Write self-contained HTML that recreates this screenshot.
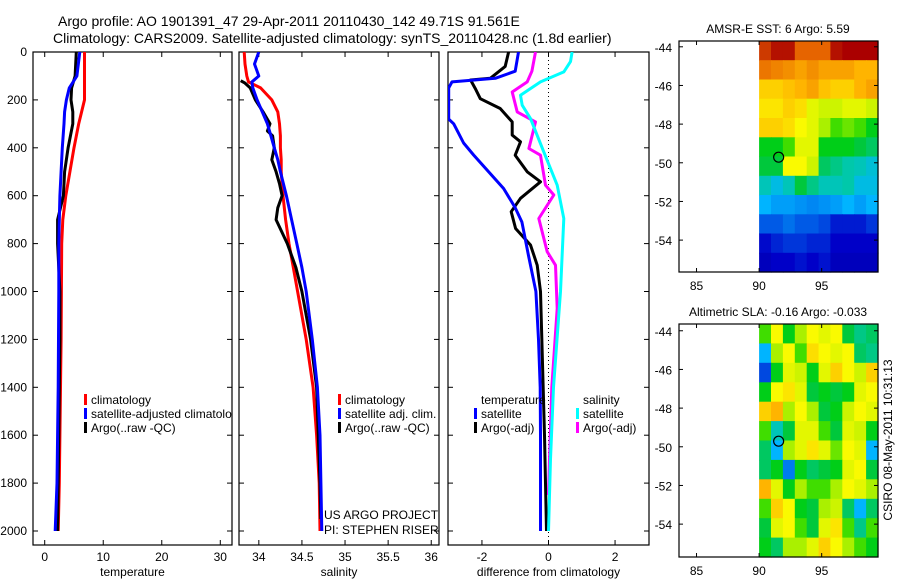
<!DOCTYPE html>
<html><head><meta charset="utf-8"><style>
html,body{margin:0;padding:0;background:#fff;}
svg{display:block;font-family:"Liberation Sans",sans-serif;}
</style></head><body>
<svg id="fig" width="900" height="580" viewBox="0 0 900 580" xmlns="http://www.w3.org/2000/svg">
<text x="58" y="26" font-size="14">Argo profile: AO 1901391_47 29-Apr-2011 20110430_142 49.71S 91.561E</text>
<text x="53" y="43" font-size="14">Climatology: CARS2009. Satellite-adjusted climatology: synTS_20110428.nc (1.8d earlier)</text>
<g id="plots"></g>
</svg>
<script>
// ---- temperature panel data ----
const tDepth = [0,100,150,200,250,300,400,500,600,700,800,1000,1200,1400,1600,1800,2000];
const tClim  = [6.8,6.8,6.8,6.8,6.3,5.8,5.0,4.3,3.6,3.1,2.9,2.85,2.8,2.7,2.6,2.5,2.3];
const tSat   = [6.0,5.5,4.2,3.7,3.4,3.3,3.0,2.8,2.6,2.5,2.4,2.4,2.35,2.3,2.2,2.1,1.8];
const tArgo  = [5.4,5.2,4.6,4.5,4.8,4.8,4.0,3.4,3.2,2.2,2.2,2.6,2.6,2.5,2.4,2.3,2.2];
const tTicks = [0,10,20,30];
// ---- salinity panel data ----
const sDepth = [0,50,100,125,150,200,250,300,350,400,450,500,600,700,800,900,1000,1200,1400,1600,1800,2000];
const sClim  = [33.83,33.84,33.86,33.88,34.02,34.15,34.22,34.24,34.25,34.25,34.26,34.26,34.28,34.31,34.35,34.40,34.45,34.55,34.63,34.67,34.70,34.71];
const sSat   = [34.0,33.95,34.0,33.92,33.93,33.98,34.04,34.10,34.14,34.18,34.22,34.25,34.32,34.38,34.44,34.50,34.55,34.62,34.68,34.71,34.72,34.73];
const sArgoDepth = [120,130,150,200,250,300,330,350,400,450,500,550,600,650,700,800,900,1000,1200,1400,1600,1800,1950];
const sArgo  = [33.79,33.84,33.90,33.96,34.05,34.13,34.10,34.16,34.18,34.15,34.20,34.24,34.27,34.22,34.20,34.33,34.43,34.50,34.60,34.67,34.69,34.71,34.72];
const sTicks = [34,34.5,35,35.5,36];
// ---- difference panel data ----
const dDepth = [0,80,110,125,150,200,280,300,380,430,500,570,650,710,850,1000,1200,1400,1600,1800,2000];
const dTSat  = [-0.9,-1.0,-1.6,-2.9,-3.0,-3.0,-3.0,-2.85,-2.55,-2.25,-1.8,-1.35,-1.0,-0.8,-0.6,-0.38,-0.3,-0.25,-0.24,-0.24,-0.24];
const dTArgoDepth = [0,60,110,117,153,195,236,292,347,375,431,500,542,611,667,737,806,890,1000,1300,1600,2000];
const dTArgo = [-1.2,-1.3,-1.75,-2.34,-2.2,-2.05,-1.45,-1.09,-1.09,-0.84,-1.0,-0.64,-0.24,-0.84,-1.12,-0.99,-0.54,-0.34,-0.24,-0.18,-0.12,-0.06];
const dSArgoDepth = [0,80,125,167,250,292,403,431,556,597,695,834,890,1070,1400,1700,1850];
const dSArgo = [-0.39,-0.5,-0.64,-1.09,-0.94,-0.39,-0.59,-0.24,-0.09,0.16,-0.29,-0.04,0.21,0.26,0.1,0.03,0.0];
const dSSatDepth = [0,40,83,125,181,222,278,417,556,695,1000,1400,1700,2000];
const dSSat  = [0.71,0.66,0.46,-0.24,-0.84,-0.79,-0.54,-0.14,0.26,0.46,0.36,0.15,0.06,0.0];
const dTicks = [-2,0,2];
const depthTicks = [0,200,400,600,800,1000,1200,1400,1600,1800,2000];
// ---- map data (colour index 0..1, rows north->south, cols west->east) ----
const sstGrid = [
[0.9,0.95,0.95,0.85,0.85,0.85,0.95,0.97,0.97,0.97],
[0.82,0.8,0.78,0.75,0.78,0.75,0.75,0.75,0.72,0.72],
[0.68,0.68,0.7,0.72,0.75,0.7,0.68,0.68,0.72,0.75],
[0.65,0.65,0.68,0.66,0.6,0.58,0.58,0.6,0.6,0.58],
[0.68,0.68,0.66,0.62,0.6,0.55,0.5,0.52,0.5,0.45],
[0.45,0.45,0.5,0.6,0.6,0.45,0.45,0.45,0.42,0.4],
[0.42,0.42,0.62,0.62,0.58,0.4,0.38,0.36,0.35,0.33],
[0.35,0.32,0.35,0.42,0.38,0.35,0.35,0.36,0.32,0.32],
[0.3,0.28,0.28,0.27,0.26,0.27,0.28,0.3,0.28,0.3],
[0.22,0.22,0.24,0.22,0.22,0.2,0.15,0.15,0.15,0.18],
[0.13,0.16,0.18,0.18,0.16,0.16,0.12,0.12,0.12,0.12],
[0.1,0.12,0.12,0.14,0.12,0.14,0.1,0.1,0.1,0.1]];
const slaGrid = [
[0.5,0.62,0.45,0.55,0.62,0.6,0.62,0.42,0.38,0.4],
[0.3,0.55,0.62,0.5,0.66,0.62,0.6,0.62,0.4,0.38],
[0.2,0.45,0.6,0.58,0.45,0.6,0.68,0.62,0.58,0.68],
[0.45,0.62,0.65,0.6,0.42,0.45,0.42,0.45,0.6,0.62],
[0.68,0.72,0.55,0.62,0.55,0.42,0.45,0.58,0.62,0.6],
[0.5,0.35,0.42,0.6,0.6,0.5,0.42,0.6,0.58,0.45],
[0.4,0.3,0.55,0.6,0.65,0.6,0.52,0.62,0.6,0.3],
[0.4,0.45,0.25,0.45,0.4,0.42,0.45,0.6,0.62,0.42],
[0.72,0.6,0.45,0.55,0.5,0.5,0.55,0.62,0.6,0.55],
[0.5,0.68,0.62,0.45,0.42,0.55,0.58,0.4,0.3,0.4],
[0.42,0.6,0.62,0.5,0.42,0.6,0.65,0.5,0.38,0.5],
[0.45,0.4,0.55,0.55,0.6,0.68,0.62,0.55,0.5,0.45]];
const lonTicks = [85,90,95];
const latTicks = [-44,-46,-48,-50,-52,-54];
const argoLon = 91.561, argoLat = -49.71;

const NS='http://www.w3.org/2000/svg';
const root=document.getElementById('plots');
function mk(tag,attrs,parent){const e=document.createElementNS(NS,tag);for(const k in attrs)e.setAttribute(k,attrs[k]);(parent||root).appendChild(e);return e;}
function txt(x,y,s,size,anchor,parent){const t=mk('text',{x:x,y:y,'font-size':size||12,'text-anchor':anchor||'start'},parent);t.textContent=s;return t;}

const pTop=52, pBot=545;
const yD = d => 52 + d*0.2395;

function panel(name,x0,x1,xmin,xmax,ticks,xlabel,showY){
  const g=mk('g',{});
  
  
  const xs = v => x0 + (v-xmin)/(xmax-xmin)*(x1-x0);
  const box=mk('rect',{x:x0,y:pTop,width:x1-x0,height:pBot-pTop,fill:'none',stroke:'#000','stroke-width':1.2},g);
  
  
  ticks.forEach(v=>{const x=xs(v);
    mk('line',{x1:x,y1:pTop,x2:x,y2:pTop+5,stroke:'#000'},g);
    mk('line',{x1:x,y1:pBot,x2:x,y2:pBot-5,stroke:'#000'},g);
    const t=txt(x,561,String(v),12,'middle',g);
    
    
  });
  depthTicks.forEach(d=>{const y=yD(d);
    mk('line',{x1:x0,y1:y,x2:x0+5,y2:y,stroke:'#000'},g);
    mk('line',{x1:x1,y1:y,x2:x1-5,y2:y,stroke:'#000'},g);
    if(showY){const t=txt(27,y+4,String(d),12,'end',g);
      
      }
  });
  const xl=txt((x0+x1)/2,576,xlabel,12,'middle',g);
  
  
  const clipId=name+'-clip';
  const cp=mk('clipPath',{id:clipId},g);
  mk('rect',{x:x0,y:pTop,width:x1-x0,height:pBot-pTop},cp);
  const lg=mk('g',{'clip-path':'url(#'+clipId+')'},g);
  return {xs,lg,g};
}
function series(p,depths,vals,color,name){
  const pts=depths.map((d,i)=>p.xs(vals[i]).toFixed(1)+','+yD(d).toFixed(1)).join(' ');
  const l=mk('polyline',{points:pts,fill:'none',stroke:color,'stroke-width':3,'stroke-linejoin':'round'},p.lg);
  
  
}
function legendEntry(g,x,y,color,label,name){
  if(color) mk('rect',{x:x,y:y-10,width:3,height:11,fill:color},g);
  const t=txt(x+7,y,label,12,'start',g);
  
  
}

// temperature
const p1=panel('temperature-panel',33,232,-2,32,tTicks,'temperature',true);
series(p1,tDepth,tClim,'#f00','temperature-climatology-line');
series(p1,tDepth,tArgo,'#000','temperature-argo-line');
series(p1,tDepth,tSat,'#00f','temperature-satellite-line');
legendEntry(p1.lg,84,404,'#f00','climatology','legend-climatology');
legendEntry(p1.lg,84,418,'#00f','satellite-adjusted climatology','legend-satellite-adjusted');
legendEntry(p1.lg,84,432,'#000','Argo(..raw -QC)','legend-argo');

// salinity
const p2=panel('salinity-panel',239,439,33.77,36.09,sTicks,'salinity',false);
series(p2,sDepth,sClim,'#f00','salinity-climatology-line');
series(p2,sArgoDepth,sArgo,'#000','salinity-argo-line');
series(p2,sDepth,sSat,'#00f','salinity-satellite-line');
legendEntry(p2.g,338,404,'#f00','climatology','legend-climatology-sal');
legendEntry(p2.g,338,418,'#00f','satellite adj. clim.','legend-satellite-sal');
legendEntry(p2.g,338,432,'#000','Argo(..raw -QC)','legend-argo-sal');
const c1=txt(324,519,'US ARGO PROJECT',12,'start',p2.g);


const c2=txt(324,534,'PI: STEPHEN RISER',12,'start',p2.g);



// differences
const p3=panel('difference-panel',448,649,-3.02,3.02,dTicks,'difference from climatology',false);
mk('line',{x1:p3.xs(0),y1:pTop,x2:p3.xs(0),y2:pBot,stroke:'#000','stroke-dasharray':'1,3'},p3.lg);
series(p3,dTArgoDepth,dTArgo,'#000','temp-diff-argo-line');
series(p3,dDepth,dTSat,'#00f','temp-diff-satellite-line');
series(p3,dSArgoDepth,dSArgo,'#f0f','sal-diff-argo-line');
series(p3,dSSatDepth,dSSat,'#0ff','sal-diff-satellite-line');
legendEntry(p3.g,474,404,null,'temperature','legend-temperature-heading');
legendEntry(p3.g,474,418,'#00f','satellite','legend-temp-satellite');
legendEntry(p3.g,474,432,'#000','Argo(-adj)','legend-temp-argo');
legendEntry(p3.g,576,404,null,'salinity','legend-salinity-heading');
legendEntry(p3.g,576,418,'#0ff','satellite','legend-sal-satellite');
legendEntry(p3.g,576,432,'#f0f','Argo(-adj)','legend-sal-argo');

// maps
const cStops=[[0,[0,0,130]],[0.12,[0,0,200]],[0.22,[0,90,230]],[0.3,[0,180,255]],[0.36,[0,200,170]],[0.42,[0,200,60]],[0.47,[0,210,0]],[0.55,[170,240,0]],[0.62,[250,250,0]],[0.72,[255,180,0]],[0.85,[230,100,0]],[0.97,[170,0,0]],[1,[160,0,0]]];
function cmap(v){v=Math.max(0,Math.min(1,v));
  for(let i=1;i<cStops.length;i++){if(v<=cStops[i][0]){const a=cStops[i-1],b=cStops[i];const f=(v-a[0])/(b[0]-a[0]);
    return 'rgb('+a[1].map((c,k)=>Math.round(c+(b[1][k]-c)*f)).join(',')+')';}}
  return 'rgb(160,0,0)';}
function map(name,y0,y1,latA,latB,grid,title){
  const x0=679,x1=878,lonA=83.6,lonB=99.5;
  const g=mk('g',{});
  
  
  const xs=lon=>x0+(lon-lonA)/(lonB-lonA)*(x1-x0);
  const ys=lat=>y0+(latA-lat)/(latA-latB)*(y1-y0);
  const rows=grid.length, cols=grid[0].length;
  const dLon=(99.5-90)/cols, dLat=(latA-latB)/rows;
  grid.forEach((row,i)=>row.forEach((v,j)=>{
    const xa=xs(90+j*dLon), xb=xs(90+(j+1)*dLon), ya=ys(latA-i*dLat), yb=ys(latA-(i+1)*dLat);
    const c=mk('rect',{x:xa.toFixed(1),y:ya.toFixed(1),width:(xb-xa+0.6).toFixed(1),height:(yb-ya+0.6).toFixed(1),fill:cmap(v)},g);
    
    
  }));
  mk('rect',{x:x0,y:y0,width:x1-x0,height:y1-y0,fill:'none',stroke:'#000','stroke-width':1.2},g);
  lonTicks.forEach(l=>{const x=xs(l);mk('line',{x1:x,y1:y1,x2:x,y2:y1-4,stroke:'#000'},g);mk('line',{x1:x,y1:y0,x2:x,y2:y0+4,stroke:'#000'},g);
    const t=txt(x,y1+18,String(l),12,'middle',g);
    
    });
  latTicks.forEach(l=>{const y=ys(l);mk('line',{x1:x0,y1:y,x2:x0+4,y2:y,stroke:'#000'},g);mk('line',{x1:x1,y1:y,x2:x1-4,y2:y,stroke:'#000'},g);
    const t=txt(672,y+5,String(l),12,'end',g);
    
    });
  const m=mk('circle',{cx:xs(argoLon),cy:ys(argoLat),r:5,fill:'none',stroke:'#000','stroke-width':1.2},g);
  
  
  const t=txt(778,y0-8,title,12,'middle',g);
  
  
}
map('sst-map',41,272,-43.7,-55.65,sstGrid,'AMSR-E SST: 6 Argo: 5.59');
map('sla-map',324,557,-43.65,-55.7,slaGrid,'Altimetric SLA: -0.16 Argo: -0.033');
const st=txt(0,0,'CSIRO 08-May-2011 10:31:13',12,'middle');
st.setAttribute('transform','translate(892,440) rotate(-90)');


</script>
</body></html>
